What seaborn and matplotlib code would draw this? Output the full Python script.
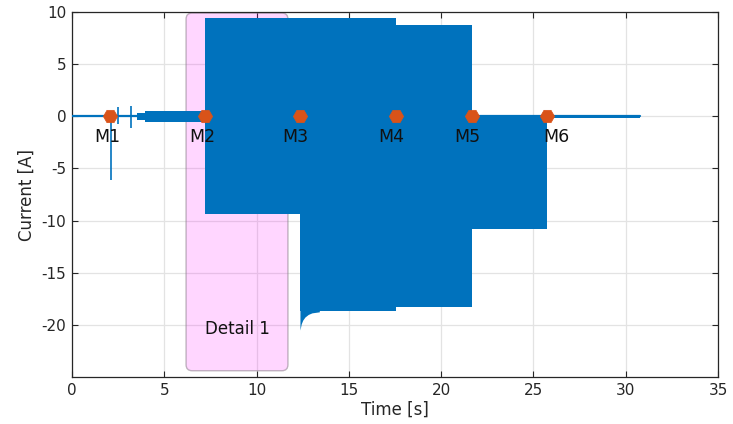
import numpy as np
import pandas as pd
import matplotlib
matplotlib.use("Agg")
import matplotlib.pyplot as plt
import seaborn as sns
from matplotlib.patches import FancyBboxPatch

# ---------------- data ----------------
baseline_t = [0.0, 30.8]
baseline_i = [0.0, 0.0]

spike_t = [2.09, 2.47, 3.18]
spike_lo = [-6.1, -0.75, -1.1]
spike_hi = [0.5, 0.9, 1.0]

band_edges = [3.5, 3.95, 7.2, 12.35, 17.55, 21.65, 25.75]
band_hi = [0.35, 0.55, 9.4, 9.4, 8.8, 0.1]
band_lo = [-0.35, -0.55, -9.4, -18.7, -18.25, -10.8]

tail_edges = [25.75, 30.8]
tail_hi = [0.12]
tail_lo = [-0.12]

transient_t = [12.35, 12.42, 12.5, 12.62, 12.8, 13.0, 13.4]
transient_lo = [-20.5, -19.9, -19.55, -19.25, -19.0, -18.85, -18.75]

marker_t = [2.07, 7.2, 12.35, 17.55, 21.65, 25.75]
marker_i = [0, 0, 0, 0, 0, 0]
marker_names = ["M1", "M2", "M3", "M4", "M5", "M6"]

detail_x = [6.18, 11.7]
detail_y = [-24.4, 9.9]
detail_label = "Detail 1"

x_ticks = [0, 5, 10, 15, 20, 25, 30, 35]
y_ticks = [-20, -15, -10, -5, 0, 5, 10]

# ---------------- style ----------------
BLUE = "#0072BD"
ORANGE = "#D95319"
DARK = "#262626"

sns.set_style("ticks")
plt.rcParams["font.family"] = ["DejaVu Sans"]

fig = plt.figure(figsize=(7.33, 4.24), dpi=100)
ax = fig.add_axes([72 / 733, 47 / 424, 646 / 733, 365 / 424])

# detail box (translucent, rounded)
box = FancyBboxPatch((detail_x[0], detail_y[0]),
                     detail_x[1] - detail_x[0], detail_y[1] - detail_y[0],
                     boxstyle="round,pad=0,rounding_size=0.33",
                     mutation_aspect=1.77,
                     facecolor=(1.0, 0.0, 1.0, 0.16),
                     edgecolor=(0.55, 0.5, 0.55, 0.55), linewidth=1.0,
                     zorder=1)
ax.add_patch(box)
ax.text((detail_x[0] + detail_x[1]) / 2, -20.4, detail_label,
        ha="center", va="center", fontsize=12, color="#111111", zorder=2)

# baseline signal
df_base = pd.DataFrame({"t": baseline_t, "i": baseline_i})
sns.lineplot(data=df_base, x="t", y="i", color=BLUE, linewidth=1.6, ax=ax,
             zorder=3)

# spikes
ax.vlines(spike_t, spike_lo, spike_hi, color=BLUE, linewidth=1.2, zorder=3)


def step_band(edges, hi, lo):
    xs = np.repeat(np.asarray(edges, dtype=float), 2)[1:-1]
    return xs, np.repeat(hi, 2), np.repeat(lo, 2)


xs, yh, yl = step_band(band_edges, band_hi, band_lo)
ax.fill_between(xs, yl, yh, color=BLUE, linewidth=0, zorder=3)
xs, yh, yl = step_band(tail_edges, tail_hi, tail_lo)
ax.fill_between(xs, yl, yh, color=BLUE, linewidth=0, zorder=3)
ax.fill_between(transient_t, transient_lo, band_hi[3], color=BLUE,
                linewidth=0, zorder=3)

# markers
df_m = pd.DataFrame({"t": marker_t, "i": marker_i})
sns.scatterplot(data=df_m, x="t", y="i", marker="H", s=105, color=ORANGE,
                edgecolor=ORANGE, linewidth=0.5, ax=ax, zorder=5)
label_dx = [-2.0, -1.5, -3.0, -3.5, -3.0, 6.5]
for name, t, v, dx in zip(marker_names, marker_t, marker_i, label_dx):
    ax.annotate(name, (t, v), xytext=(dx, -15), textcoords="offset points",
                ha="center", va="center", fontsize=12.5, color="#111111",
                zorder=6)

# axes
ax.set_xlim(0, 35)
ax.set_ylim(-25, 10)
ax.set_xticks(x_ticks)
ax.set_yticks(y_ticks)
ax.set_xticklabels([str(v) for v in x_ticks])
ax.set_yticklabels([str(v) for v in y_ticks])
ax.set_xlabel("Time [s]", fontsize=12, color=DARK, labelpad=2)
ax.set_ylabel("Current [A]", fontsize=12, color=DARK, labelpad=4)
ax.grid(True, color="#E3E3E3", linewidth=0.9)
ax.set_axisbelow(True)
ax.tick_params(direction="in", top=True, right=True, length=4, width=0.8,
               colors=DARK, labelsize=11, pad=4)
for sp in ax.spines.values():
    sp.set_visible(True)
    sp.set_color(DARK)
    sp.set_linewidth(0.9)

fig.savefig("out.png", dpi=100)
